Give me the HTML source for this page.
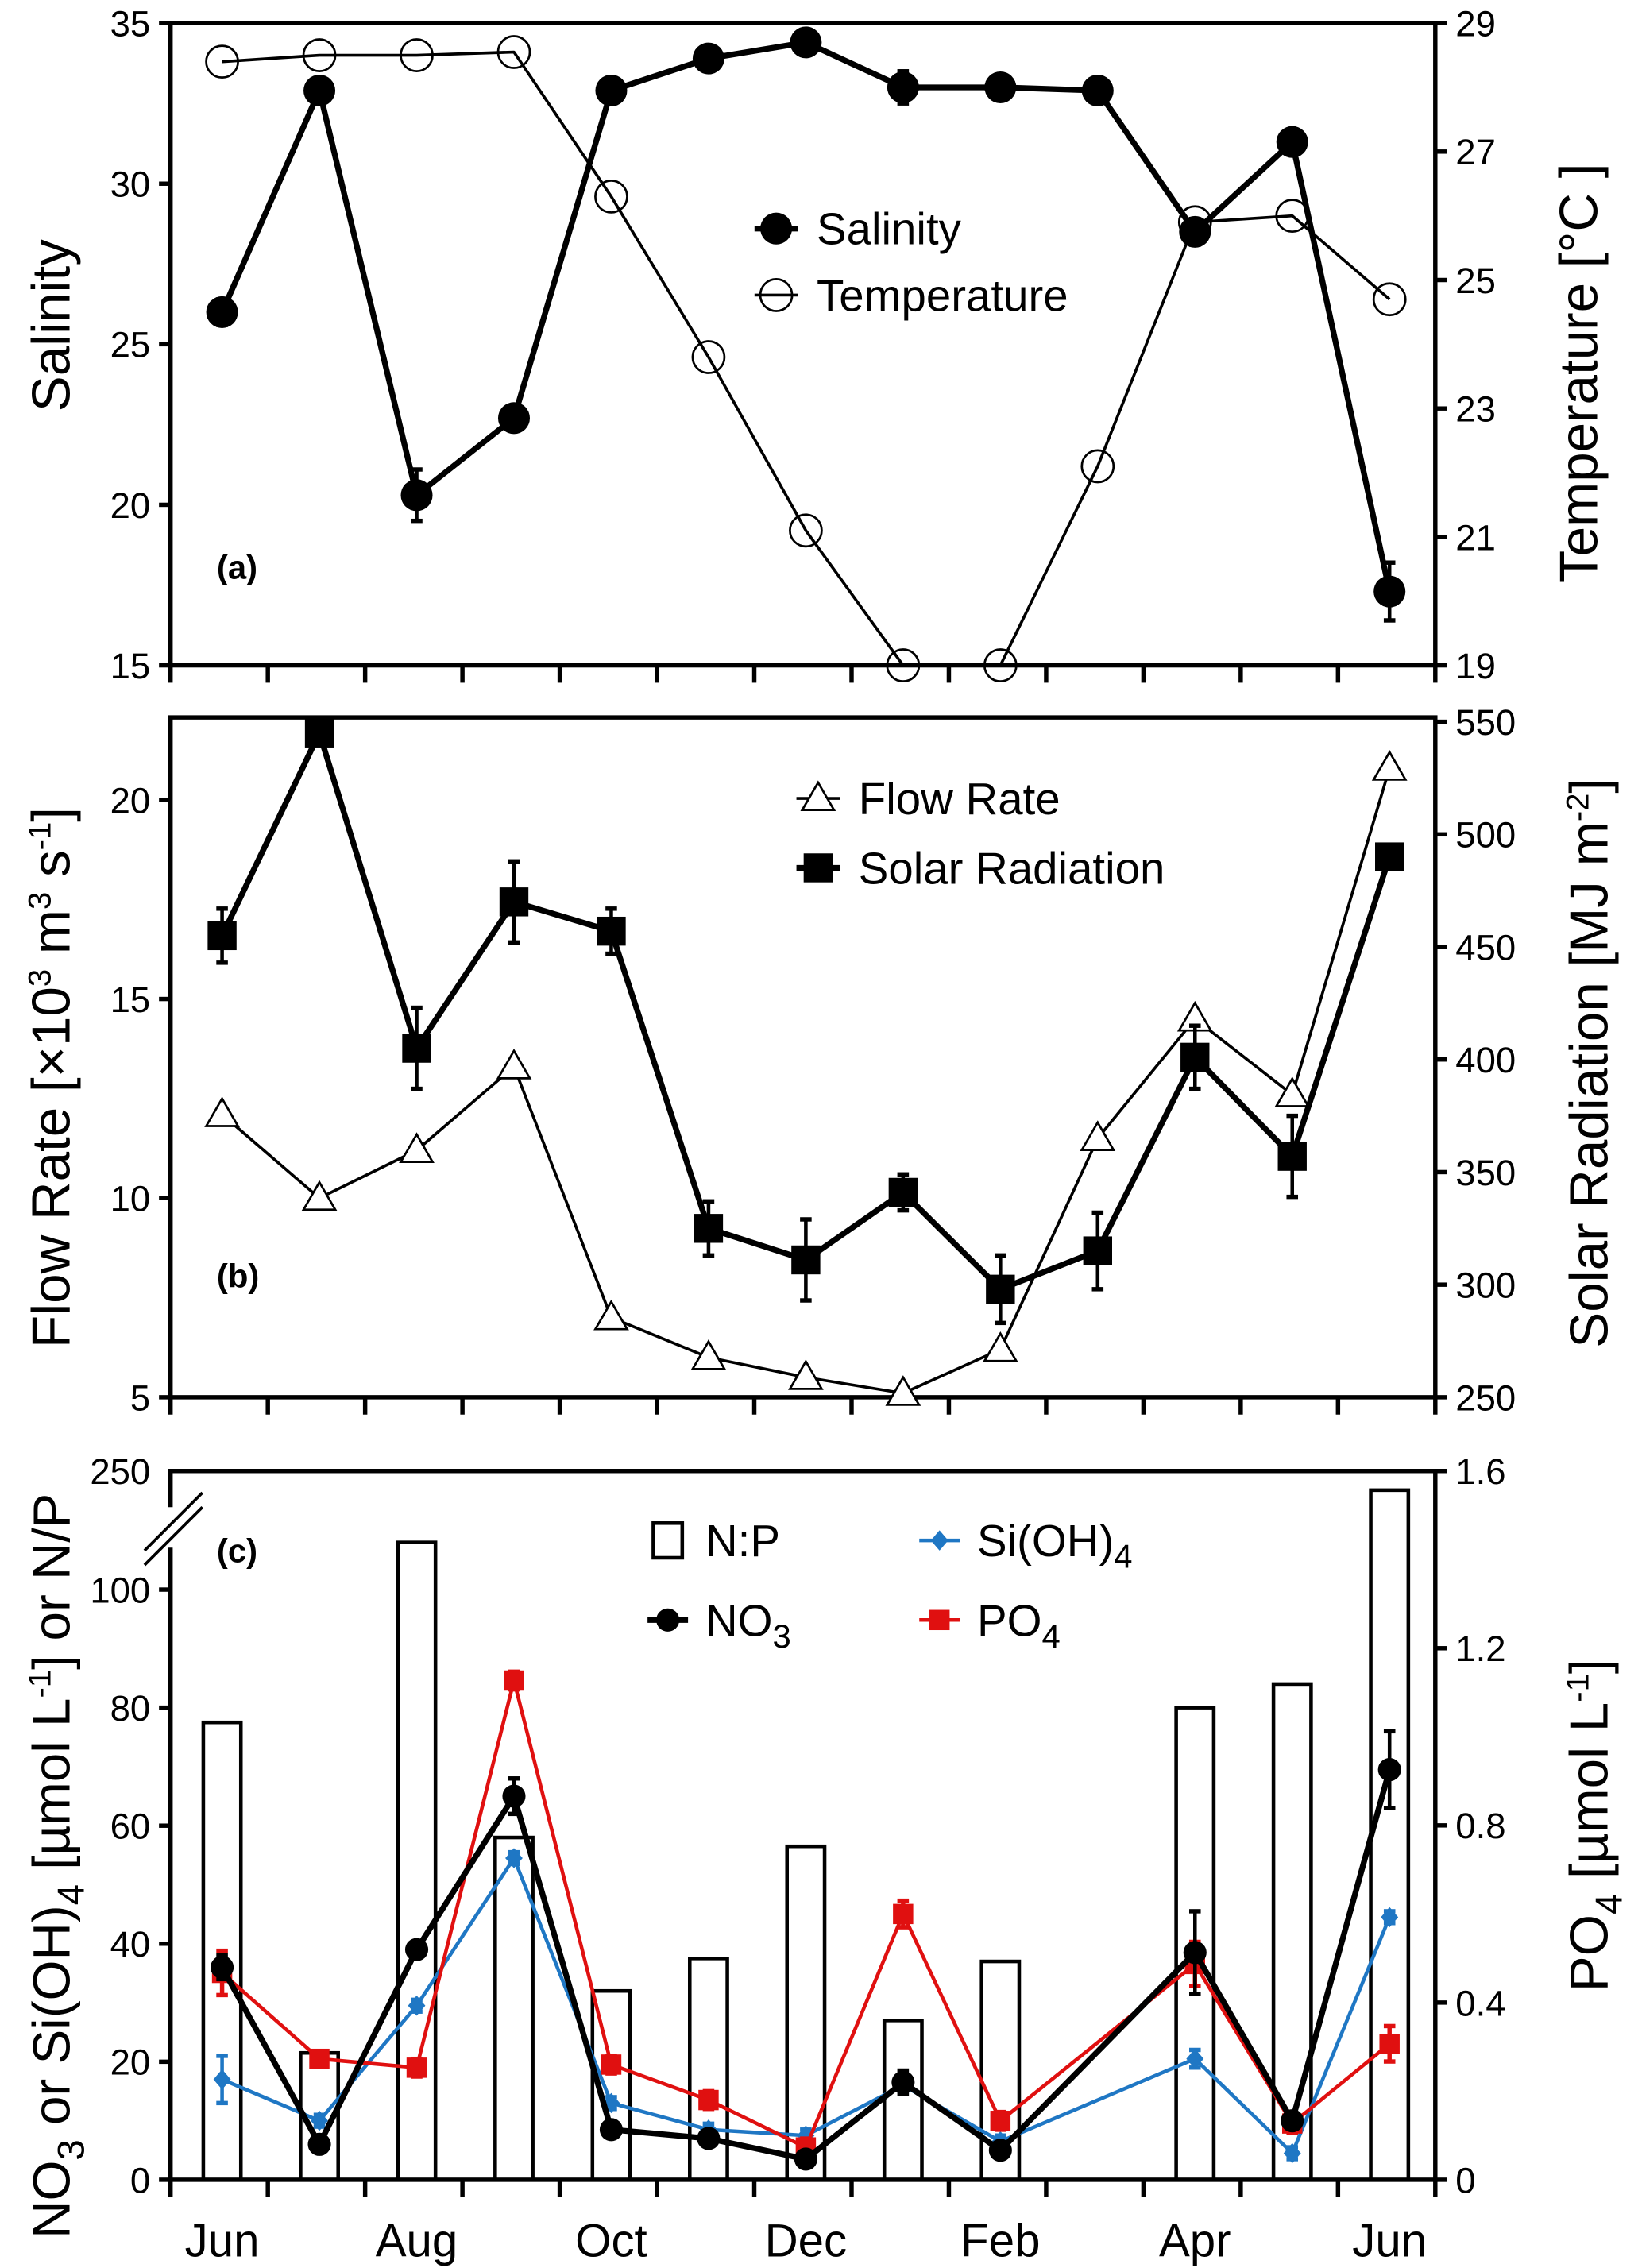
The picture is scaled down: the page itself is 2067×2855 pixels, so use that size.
<!DOCTYPE html>
<html><head><meta charset="utf-8"><style>
html,body{margin:0;padding:0;background:#fff}
svg{display:block}
text{font-family:"Liberation Sans",sans-serif;fill:#000}
</style></head><body>
<svg id="fig" width="2067" height="2855" viewBox="0 0 1136 1568" preserveAspectRatio="none" xmlns="http://www.w3.org/2000/svg"></svg>
<script>
// ---- data ----
const months = ["Jun","Jul","Aug","Sep","Oct","Nov","Dec","Jan","Feb","Mar","Apr","May","Jun"];
const monthLabels = ["Jun","Aug","Oct","Dec","Feb","Apr","Jun"];
const monthLabelIdx = [0,2,4,6,8,10,12];
const salinity = [26.0,32.9,20.3,22.7,32.9,33.9,34.4,33.0,33.0,32.9,28.5,31.3,17.3];
const salinityErr = [0.4,0.2,0.8,0.2,0.2,0.2,0.3,0.5,0.2,0.2,0.4,0.2,0.9];
const temperature = [28.4,28.5,28.5,28.55,26.3,23.8,21.1,19.0,19.0,22.1,25.9,26.0,24.7];
const flowRate = [12.1,10.0,11.2,13.3,7.0,6.0,5.5,5.1,6.2,11.5,14.5,12.6,20.8];
const solar = [455,545,405,470,457,325,311,341,298,315,401,357,490];
const solarErr = [12,0,18,18,10,12,18,8,15,17,14,18,0];
const np = [77.5,21.5,108,58,32,37.5,56.5,27,37,null,80,84,205];
const no3 = [36,6,39,65,8.5,7,3.5,16.5,5,null,38.5,10,69.5];
const no3Err = [2,1,1,3,1,1,1,2,1,null,7,1,6.5];
const si = [17,10,29.5,54.5,13,8.5,7.5,16,6.5,null,20.5,4.5,44.5];
const siErr = [4,1,1,1,1,1,1,1,1,null,1.5,1,1];
const po4 = [0.467,0.273,0.253,1.127,0.26,0.18,0.073,0.6,0.133,null,0.487,0.127,0.307];
const po4Err = [0.05,0.01,0.02,0.02,0.02,0.02,0.02,0.03,0.02,null,0.05,0.02,0.04];
const salTicks=[15,20,25,30,35], tempTicks=[19,21,23,25,27,29];
const flowTicks=[5,10,15,20], solarTicks=[250,300,350,400,450,500,550];
const leftCTicks=[0,20,40,60,80,100], po4Ticks=[0,0.4,0.8,1.2,1.6];

const NS="http://www.w3.org/2000/svg";
const svg=document.getElementById('fig');
function el(tag,attrs,parent,txt){const e=document.createElementNS(NS,tag);for(const k in attrs)e.setAttribute(k,attrs[k]);if(txt!==undefined)e.textContent=txt;(parent||svg).appendChild(e);return e;}
const L=118,R=993,N=13,step=(R-L)/N;
const xc=i=>L+2+step*(i+0.5);
function lin(d0,d1,p0,p1){return v=>p0+(v-d0)/(d1-d0)*(p1-p0);}

function frame(top,bot,name){
  const g=el('g',{},svg);
  
  el('rect',{x:L,y:top,width:R-L,height:bot-top,fill:'none',stroke:'#000','stroke-width':3},g);
  for(let i=0;i<=N;i++){el('line',{x1:L+step*i,x2:L+step*i,y1:bot,y2:bot+12,stroke:'#000','stroke-width':3},g);}
  return g;
}
function leftAxis(ticks,sc,name,fmt){const g=el('g',{},svg);
  ticks.forEach(t=>{const y=sc(t);el('line',{x1:L-8,x2:L,y1:y,y2:y,stroke:'#000','stroke-width':3},g);
  const tx=el('text',{x:L-14,y:y+9,'font-size':25,'text-anchor':'end'},g,fmt?fmt(t):t);});}
function rightAxis(ticks,sc,name,fmt){const g=el('g',{},svg);
  ticks.forEach(t=>{const y=sc(t);el('line',{x1:R,x2:R+8,y1:y,y2:y,stroke:'#000','stroke-width':3},g);
  const tx=el('text',{x:R+14,y:y+9,'font-size':25},g,fmt?fmt(t):t);});}
function vtitle(x,y,name,html,size){const t=el('text',{x:x,y:y,'font-size':size||37,'text-anchor':'middle',transform:`rotate(-90 ${x} ${y})`},svg);t.innerHTML=html;return t;}
function line(vals,sc,name,color,w){const g=el('g',{},svg);
  let d='';vals.forEach((v,i)=>{if(v===null)return;d+=(d?'L':'M')+xc(i)+' '+sc(v)+' ';});
  el('path',{d:d,fill:'none',stroke:color,'stroke-width':w,'stroke-linejoin':'round'},g);return g;}
function errs(vals,errv,sc,g,color,w){vals.forEach((v,i)=>{if(v===null||!errv[i])return;const x=xc(i),y1=sc(v-errv[i]),y2=sc(v+errv[i]);
  el('line',{x1:x,x2:x,y1:y1,y2:y2,stroke:color,'stroke-width':w||2.5},g);
  el('line',{x1:x-4,x2:x+4,y1:y1,y2:y1,stroke:color,'stroke-width':3},g);el('line',{x1:x-4,x2:x+4,y1:y2,y2:y2,stroke:color,'stroke-width':3},g);});}

// ===== Panel a =====
const aT=16,aB=460;
frame(aT,aB,'panel-a');
const ySal=lin(15,35,aB,aT), yTemp=lin(19,29,aB,aT);
leftAxis(salTicks,ySal,'salinity-axis');rightAxis(tempTicks,yTemp,'temperature-axis');
vtitle(48,225,'salinity-axis-title','Salinity');
vtitle(1105,258,'temperature-axis-title','Temperature [°C ]');
let gT=line(temperature,yTemp,'temperature-series','#000',2);
temperature.forEach((v,i)=>{const c=el('circle',{cx:xc(i),cy:yTemp(v),r:11,fill:'none',stroke:'#000','stroke-width':1.5},gT);});
let gS=line(salinity,ySal,'salinity-series','#000',4);
errs(salinity,salinityErr,ySal,gS,'#000');
salinity.forEach((v,i)=>{const c=el('circle',{cx:xc(i),cy:ySal(v),r:11,fill:'#000'},gS);});
{const g=el('g',{},svg);
el('line',{x1:522,x2:552,y1:158,y2:158,stroke:'#000','stroke-width':4},g);el('circle',{cx:537,cy:158,r:11,fill:'#000'},g);
el('text',{x:565,y:169,'font-size':31},g,'Salinity');
el('line',{x1:522,x2:552,y1:204,y2:204,stroke:'#000','stroke-width':2},g);el('circle',{cx:537,cy:204,r:11,fill:'none',stroke:'#000','stroke-width':1.5},g);
el('text',{x:565,y:215,'font-size':31},g,'Temperature');}
{const t=el('text',{x:150,y:400,'font-size':23,'font-weight':'bold'},svg,'(a)');}

// ===== Panel b =====
const bT=496,bB=966;
frame(bT,bB,'panel-b');
const yFlow=lin(5,20,bB,553), ySol=lin(250,550,bB,499);
leftAxis(flowTicks,yFlow,'flow-rate-axis');rightAxis(solarTicks,ySol,'solar-radiation-axis');
vtitle(48,745,'flow-rate-axis-title','Flow Rate [×10<tspan dy="-13" font-size="22">3</tspan><tspan dy="13"> m</tspan><tspan dy="-13" font-size="22">3</tspan><tspan dy="13"> s</tspan><tspan dy="-13" font-size="22">-1</tspan><tspan dy="13">]</tspan>');
vtitle(1112,735,'solar-radiation-axis-title','Solar Radiation [MJ m<tspan dy="-13" font-size="22">-2</tspan><tspan dy="13">]</tspan>');
let gF=line(flowRate,yFlow,'flow-rate-series','#000',2);
flowRate.forEach((v,i)=>{const x=xc(i),y=yFlow(v);const p=el('polygon',{points:`${x},${y-11} ${x-11},${y+8} ${x+11},${y+8}`,fill:'#fff',stroke:'#000','stroke-width':1.5},gF);});
let gSo=line(solar,ySol,'solar-radiation-series','#000',4);
errs(solar,solarErr,ySol,gSo,'#000');
solar.forEach((v,i)=>{const r=el('rect',{x:xc(i)-10,y:ySol(v)-10,width:20,height:20,fill:'#000'},gSo);});
{const g=el('g',{},svg);
el('line',{x1:551,x2:581,y1:552,y2:552,stroke:'#000','stroke-width':2},g);el('polygon',{points:'566,541 555,560 577,560',fill:'#fff',stroke:'#000','stroke-width':1.5},g);
el('text',{x:594,y:563,'font-size':31},g,'Flow Rate');
el('line',{x1:551,x2:581,y1:600,y2:600,stroke:'#000','stroke-width':4},g);el('rect',{x:556,y:590,width:20,height:20,fill:'#000'},g);
el('text',{x:594,y:611,'font-size':31},g,'Solar Radiation');}
{const t=el('text',{x:150,y:890,'font-size':23,'font-weight':'bold'},svg,'(b)');}

// ===== Panel c =====
const cT=1017,cB=1507;
const yL0=lin(0,100,cB,1099);
const yLeft=v=>v<=110?yL0(v):yL0(110)+(v-110)/(250-110)*(cT-yL0(110));
const yPO4=lin(0,1.6,cB,cT);
{const g=el('g',{},svg);
np.forEach((v,i)=>{if(v===null)return;const r=el('rect',{x:xc(i)-13,y:yLeft(v),width:26,height:cB-yLeft(v),fill:'#fff',stroke:'#000','stroke-width':2.5},g);});}
frame(cT,cB,'panel-c');
leftAxis(leftCTicks,yLeft,'nutrient-axis');
{const t=el('text',{x:L-14,y:cT+9,'font-size':25,'text-anchor':'end'},svg,'250');}
rightAxis(po4Ticks,yPO4,'po4-axis',t=>t===0?'0':t.toFixed(1));
{const g=el('g',{},svg);
el('rect',{x:L-6,y:1042,width:12,height:28,fill:'#fff'},g);
el('line',{x1:100,y1:1072,x2:140,y2:1032,stroke:'#000','stroke-width':2},g);
el('line',{x1:100,y1:1082,x2:140,y2:1042,stroke:'#000','stroke-width':2},g);}
vtitle(48,1290,'nutrient-axis-title','NO<tspan dy="10" font-size="26">3</tspan><tspan dy="-10"> or Si(OH)</tspan><tspan dy="10" font-size="26">4</tspan><tspan dy="-10"> [µmol L</tspan><tspan dy="-13" font-size="22">-1</tspan><tspan dy="13">] or N/P</tspan>',36);
vtitle(1112,1262,'po4-axis-title','PO<tspan dy="10" font-size="26">4</tspan><tspan dy="-10"> [µmol L</tspan><tspan dy="-13" font-size="22">-1</tspan><tspan dy="13">]</tspan>');
let gSi=line(si,yLeft,'si-series','#1f77c4',2.5);errs(si,siErr,yLeft,gSi,'#1f77c4');
si.forEach((v,i)=>{if(v===null)return;const x=xc(i),y=yLeft(v);const p=el('polygon',{points:`${x},${y-7} ${x+6},${y} ${x},${y+7} ${x-6},${y}`,fill:'#1f77c4'},gSi);});
let gP=line(po4,yPO4,'po4-series','#e01010',2.5);errs(po4,po4Err,yPO4,gP,'#e01010',3);
po4.forEach((v,i)=>{if(v===null)return;const r=el('rect',{x:xc(i)-7,y:yPO4(v)-7,width:14,height:14,fill:'#e01010'},gP);});
let gN=line(no3,yLeft,'no3-series','#000',4);errs(no3,no3Err,yLeft,gN,'#000');
no3.forEach((v,i)=>{if(v===null)return;const c=el('circle',{cx:xc(i),cy:yLeft(v),r:8,fill:'#000'},gN);});
{const g=el('g',{},svg);
el('rect',{x:452,y:1053,width:20,height:24,fill:'#fff',stroke:'#000','stroke-width':2.5},g);
el('text',{x:488,y:1076,'font-size':31},g,'N:P');
el('line',{x1:636,x2:664,y1:1065,y2:1065,stroke:'#1f77c4','stroke-width':2.5},g);el('polygon',{points:'650,1058 656,1065 650,1072 644,1065',fill:'#1f77c4'},g);
const t1=el('text',{x:676,y:1076,'font-size':31},g);t1.innerHTML='Si(OH)<tspan dy="8" font-size="23">4</tspan>';
el('line',{x1:448,x2:476,y1:1120,y2:1120,stroke:'#000','stroke-width':4},g);el('circle',{cx:462,cy:1120,r:8,fill:'#000'},g);
const t2=el('text',{x:488,y:1131,'font-size':31},g);t2.innerHTML='NO<tspan dy="8" font-size="23">3</tspan>';
el('line',{x1:636,x2:664,y1:1120,y2:1120,stroke:'#e01010','stroke-width':2.5},g);el('rect',{x:643,y:1113,width:14,height:14,fill:'#e01010'},g);
const t3=el('text',{x:676,y:1131,'font-size':31},g);t3.innerHTML='PO<tspan dy="8" font-size="23">4</tspan>';}
{const t=el('text',{x:150,y:1080,'font-size':23,'font-weight':'bold'},svg,'(c)');}
monthLabels.forEach((m,k)=>{const t=el('text',{x:xc(monthLabelIdx[k]),y:1560,'font-size':32,'text-anchor':'middle'},svg,m);

});
</script>
</body></html>
